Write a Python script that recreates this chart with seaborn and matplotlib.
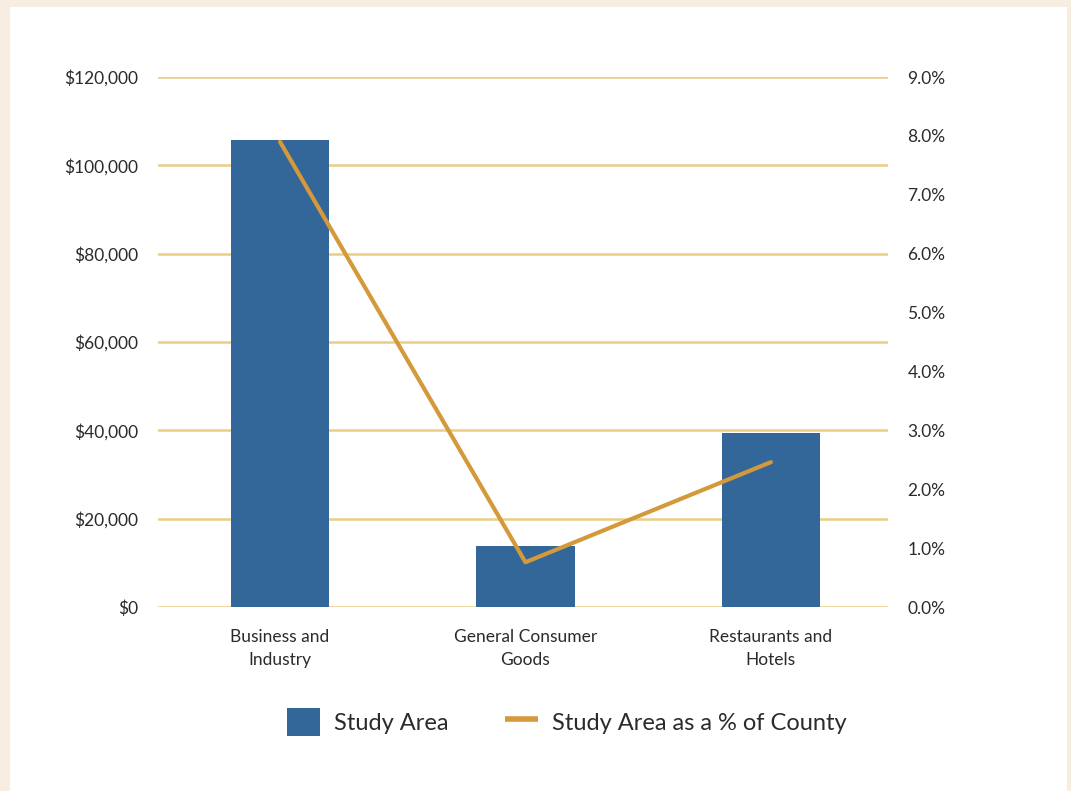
import numpy as np
import pandas as pd
import matplotlib
matplotlib.use("Agg")
import matplotlib.pyplot as plt
from matplotlib.patches import Patch, Rectangle
from matplotlib.lines import Line2D
from matplotlib.ticker import FuncFormatter
import seaborn as sns

# data
categories = ["Business and\nIndustry", "General Consumer\nGoods", "Restaurants and\nHotels"]
study_area = [105700, 13800, 39400]
pct_of_county = [7.9, 0.76, 2.46]

BLUE = "#336699"
GOLD = "#D4993A"
GRID = "#EBCD85"
BEIGE = "#F7EDE1"
TEXT = "#2b2b2b"

sns.set_theme(style="white")
plt.rcParams["font.family"] = ["Lato", "DejaVu Sans"]

W, H = 1071, 791
fig = plt.figure(figsize=(W / 100, H / 100), dpi=100, facecolor=BEIGE)
# white panel
fig.patches.append(Rectangle((10 / W, 0), (1067 - 10) / W, 1 - 7 / H,
                             transform=fig.transFigure, facecolor="white",
                             edgecolor="none", zorder=-10))

ax = fig.add_axes([158 / W, 1 - 607 / H, (888 - 158) / W, (607 - 77) / H])
ax.set_facecolor("none")

df = pd.DataFrame({"category": categories, "value": study_area})
sns.barplot(data=df, x="category", y="value", color=BLUE, width=0.4,
            saturation=1, linewidth=0, ax=ax, zorder=3)

ax.set_ylim(0, 120000)
ax.set_yticks(np.arange(0, 120001, 20000))
ax.yaxis.set_major_formatter(FuncFormatter(lambda v, p: f"${v:,.0f}"))
ax.set_xlim(-0.497, 2.477)
ax.grid(axis="y", color=GRID, linewidth=1.8, zorder=0)
ax.set_axisbelow(True)
ax.set_xlabel("")
ax.set_ylabel("")
for s in ax.spines.values():
    s.set_visible(False)
ax.tick_params(axis="y", length=0, pad=14, labelsize=12.5, labelcolor=TEXT)
ax.tick_params(axis="x", length=0, pad=30, labelsize=12.5, labelcolor=TEXT)
for lbl in ax.get_xticklabels():
    lbl.set_linespacing(1.55)
    lbl.set_verticalalignment("center")

ax2 = ax.twinx()
sns.lineplot(x=np.arange(len(pct_of_county)), y=pct_of_county, color=GOLD,
             linewidth=3, ax=ax2)
ax2.set_ylim(0, 9)
ax2.set_yticks(np.arange(0, 9.01, 1))
ax2.yaxis.set_major_formatter(FuncFormatter(lambda v, p: f"{v:.1f}%"))
for s in ax2.spines.values():
    s.set_visible(False)
ax2.tick_params(axis="y", length=0, pad=14, labelsize=12.5, labelcolor=TEXT)
ax2.grid(False)

handles = [Patch(facecolor=BLUE, edgecolor="none"),
           Line2D([0], [0], color=GOLD, linewidth=4, solid_capstyle="butt")]
fig.legend(handles, ["Study Area", "Study Area as a % of County"],
           loc="center", bbox_to_anchor=(567 / W, 1 - 722 / H), ncol=2,
           frameon=False, fontsize=17, handlelength=1.4, handleheight=1.5,
           columnspacing=2.4, handletextpad=0.6, labelcolor=TEXT)

fig.savefig("out.png", dpi=100, facecolor=BEIGE)
